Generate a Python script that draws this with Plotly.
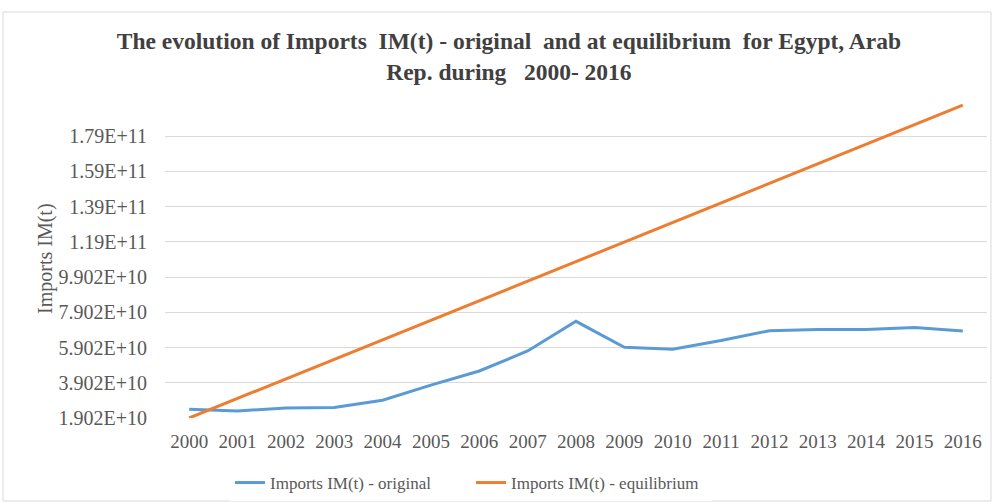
import plotly.graph_objects as go

years = [str(y) for y in range(2000, 2017)]
imports_original = [2.40e10, 2.30e10, 2.47e10, 2.50e10, 2.91e10, 3.77e10, 4.57e10, 5.71e10, 7.39e10,
                    5.92e10, 5.81e10, 6.30e10, 6.86e10, 6.93e10, 6.93e10, 7.04e10, 6.84e10]
imports_equilibrium = [1.902e10, 3.01e10, 4.12e10, 5.23e10, 6.34e10, 7.45e10, 8.56e10, 9.67e10, 1.078e11,
                       1.189e11, 1.300e11, 1.411e11, 1.522e11, 1.633e11, 1.744e11, 1.855e11, 1.966e11]
tick_vals = [1.902e10, 3.902e10, 5.902e10, 7.902e10, 9.902e10, 1.19e11, 1.39e11, 1.59e11, 1.79e11]
tick_text = ["1.902E+10", "3.902E+10", "5.902E+10", "7.902E+10", "9.902E+10",
             "1.19E+11", "1.39E+11", "1.59E+11", "1.79E+11"]

serif = "Liberation Serif, Times New Roman, serif"

fig = go.Figure()
fig.add_trace(go.Scatter(x=years, y=imports_original, mode="lines",
                         name="Imports IM(t) - original",
                         line=dict(color="#5B9BD5", width=3)))
fig.add_trace(go.Scatter(x=years, y=imports_equilibrium, mode="lines",
                         name="Imports IM(t) - equilibrium",
                         line=dict(color="#ED7D31", width=3)))

L, R, T, B = 165, 987, 101, 418
W, H = 992, 502
pw, ph = R - L, B - T

def px(x):
    return (x - L) / pw

def py(y):
    return (B - y) / ph

fig.update_layout(
    width=W, height=H,
    margin=dict(l=L, r=W - R, t=T, b=H - B, autoexpand=False),
    paper_bgcolor="white", plot_bgcolor="white",
    title=dict(text="<b>The evolution of Imports  IM(t) - original  and at equilibrium  for Egypt, Arab<br>Rep. during   2000- 2016</b>",
               x=0.513, xref="container", xanchor="center",
               y=1 - 49 / H, yref="container", yanchor="top",
               font=dict(family=serif, size=23.5, color="#404040")),
    font=dict(family=serif, color="#595959"),
    showlegend=True,
    legend=dict(orientation="h", xref="container", yref="container",
                x=230 / W, xanchor="left", y=1 - 483 / H, yanchor="middle",
                font=dict(family=serif, size=17, color="#595959"),
                entrywidth=196, traceorder="normal"),
    xaxis=dict(type="category", range=[-0.5, 16.5], showgrid=False, showline=False,
               ticks="outside", ticklen=6, tickcolor="rgba(0,0,0,0)", automargin=False,
               tickfont=dict(family=serif, size=19, color="#595959")),
    yaxis=dict(range=[1.902e10, 1.99e11], tickmode="array", tickvals=tick_vals, ticktext=tick_text,
               showgrid=True, gridcolor="#D9D9D9", gridwidth=1, zeroline=False, showline=False,
               ticks="outside", ticklen=13, tickcolor="rgba(0,0,0,0)", automargin=False,
               tickfont=dict(family=serif, size=20, color="#595959")),
    annotations=[dict(text="Imports IM(t)", xref="paper", yref="paper", x=px(45), y=py(259),
                      textangle=-90, showarrow=False, xanchor="center", yanchor="middle",
                      font=dict(family=serif, size=20, color="#595959"))],
)

fig.add_shape(type="rect", xref="paper", yref="paper",
              x0=px(3), x1=px(991), y0=py(501), y1=py(12),
              line=dict(color="#D9D9D9", width=1), layer="below")

fig.write_html("out.html", config={"displayModeBar": False},
               post_script="document.body.style.margin='0px';")
